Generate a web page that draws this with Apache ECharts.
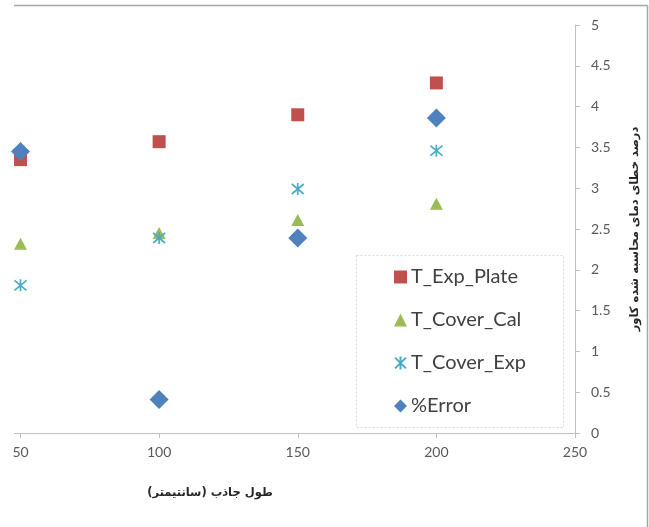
<!DOCTYPE html>
<html>
<head>
<meta charset="utf-8">
<script src="https://cdn.jsdelivr.net/npm/echarts@6/dist/echarts.min.js"></script>
<style>
  html, body { margin: 0; padding: 0; background: #fff; }
  #chart { width: 649px; height: 527px; }
</style>
</head>
<body>
<div id="chart"></div>
<script>
// Absorber length (cm)
const lengths = [50, 100, 150, 200];

// Measured / computed values per absorber length
const tExpPlate = [3.35, 3.57, 3.90, 4.29];
const tCoverCal = [2.32, 2.45, 2.61, 2.81];
const tCoverExp = [1.81, 2.39, 2.99, 3.46];
const pctError  = [3.45, 0.41, 2.39, 3.86];

const seriesNames = ['T_Exp_Plate', 'T_Cover_Cal', 'T_Cover_Exp', '%Error'];

const xTitle = 'طول جاذب (سانتیمتر)\u200F';
const yTitle = 'درصد خطای دمای محاسبه شده کاور\u200F';

const asteriskPath = 'path://M0,-6L0,6M-5,-5L5,5M-5,5L5,-5';

const pairs = vals => lengths.map((x, i) => [x, vals[i]]);

const chart = echarts.init(document.getElementById('chart'));

const labelFont = 'Lato, "Open Sans", sans-serif';

chart.setOption({
  animation: false,
  backgroundColor: '#ffffff',
  grid: { left: 20.5, right: 68, top: 25, bottom: 94 },
  xAxis: {
    type: 'value',
    min: 50, max: 250, interval: 50,
    axisLine: { show: true, onZero: false, lineStyle: { color: '#BFBFBF', width: 1 } },
    axisTick: { show: true, inside: false, length: 5, lineStyle: { color: '#BFBFBF' } },
    splitLine: { show: false },
    axisLabel: { color: '#595959', fontSize: 14, fontFamily: labelFont, margin: 12 }
  },
  yAxis: {
    type: 'value',
    position: 'right',
    min: 0, max: 5, interval: 0.5,
    axisLine: { show: true, onZero: false, lineStyle: { color: '#BFBFBF', width: 1 } },
    axisTick: { show: true, inside: false, length: 5, lineStyle: { color: '#BFBFBF' } },
    splitLine: { show: false },
    axisLabel: { color: '#595959', fontSize: 14, fontFamily: labelFont, margin: 16 },
    name: yTitle,
    nameLocation: 'middle',
    nameRotate: 90,
    nameGap: 54,
    nameTextStyle: { color: '#262626', fontSize: 11.5, fontWeight: 'bold', fontFamily: '"DejaVu Sans", sans-serif' }
  },
  legend: {
    orient: 'vertical',
    left: 394, top: 267,
    itemWidth: 13, itemHeight: 13,
    itemGap: 23,
    padding: 0,
    textStyle: { color: '#404040', fontSize: 20, lineHeight: 20, fontFamily: labelFont, padding: [0, 0, 0, -1] },
    data: seriesNames
  },
  series: [
    {
      name: seriesNames[0], type: 'scatter', symbol: 'rect', symbolSize: 13,
      itemStyle: { color: '#C0504D', opacity: 1 },
      data: pairs(tExpPlate), z: 2
    },
    {
      name: seriesNames[1], type: 'scatter', symbol: 'triangle', symbolSize: [13, 12],
      itemStyle: { color: '#9BBB59', opacity: 1 },
      data: pairs(tCoverCal), z: 3
    },
    {
      name: seriesNames[2], type: 'scatter', symbol: asteriskPath, symbolSize: 12,
      itemStyle: { color: 'rgba(0,0,0,0)', borderColor: '#4BACC6', borderWidth: 1.7, opacity: 1 },
      data: pairs(tCoverExp), z: 4
    },
    {
      name: seriesNames[3], type: 'scatter', symbol: 'diamond', symbolSize: 19,
      itemStyle: { color: '#4F81BD', opacity: 1 },
      data: pairs(pctError), z: 5
    }
  ],
  graphic: [
    // outer frame: top and right edges
    { type: 'line', shape: { x1: 14, y1: 5.5, x2: 647.5, y2: 5.5 }, style: { stroke: '#A6A6A6', lineWidth: 1.5 }, silent: true },
    { type: 'line', shape: { x1: 647.5, y1: 5.5, x2: 647.5, y2: 527 }, style: { stroke: '#A6A6A6', lineWidth: 1.5 }, silent: true },
    // short lead-in of the horizontal axis
    { type: 'line', shape: { x1: 14, y1: 433.5, x2: 21, y2: 433.5 }, style: { stroke: '#BFBFBF', lineWidth: 1 }, silent: true },
    // dotted legend box
    { type: 'rect', shape: { x: 356.5, y: 255.5, width: 207, height: 172 }, style: { fill: 'none', stroke: '#D9D9D9', lineWidth: 1, lineDash: [2, 2] }, silent: true, z: 0 },
    // horizontal axis title
    { type: 'text', x: 210, y: 493, style: { text: xTitle, fill: '#262626', font: 'bold 11.5px "DejaVu Sans", sans-serif', textAlign: 'center', textVerticalAlign: 'middle' }, silent: true }
  ]
});
</script>
</body>
</html>
